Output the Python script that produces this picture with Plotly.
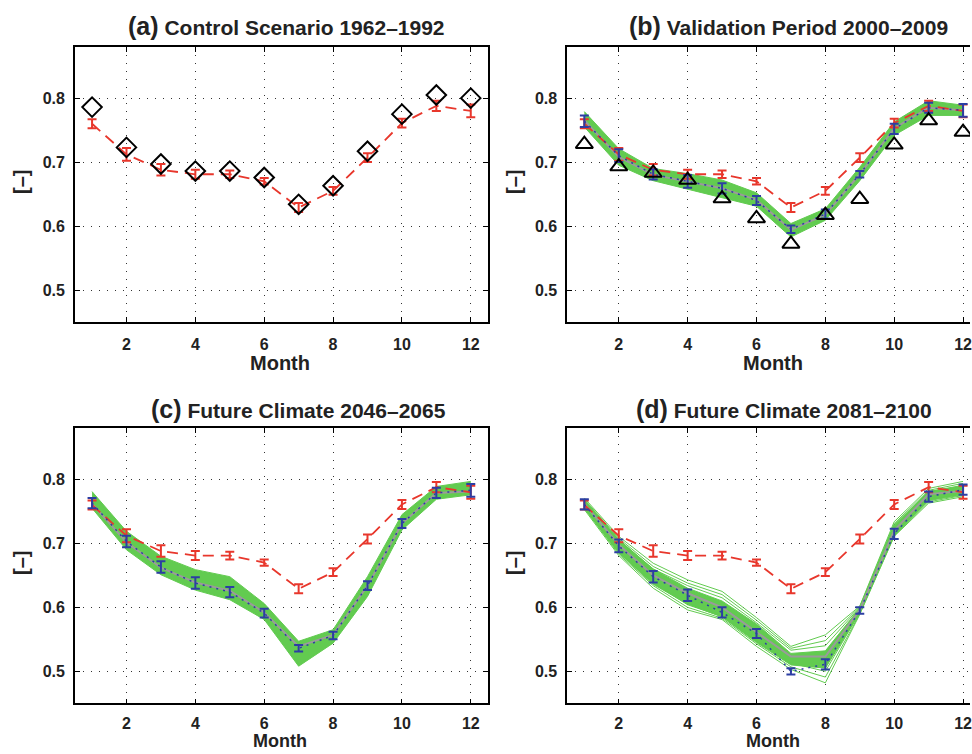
import plotly.graph_objects as go

W, H = 972, 754

months = list(range(1, 13))
xtick_vals = [2, 4, 6, 8, 10, 12]
ytick_vals = [0.5, 0.6, 0.7, 0.8]
ytick_text = ["0.5", "0.6", "0.7", "0.8"]

# Control scenario (red dashed with error bars), same in all panels
ctrl_mean = [0.760, 0.712, 0.688, 0.681, 0.681, 0.670, 0.629, 0.655, 0.707, 0.761, 0.788, 0.780]
ctrl_err = [0.007, 0.010, 0.009, 0.007, 0.006, 0.005, 0.007, 0.006, 0.007, 0.007, 0.008, 0.010]

# Observations
obs_ctrl = [0.786, 0.723, 0.697, 0.686, 0.686, 0.676, 0.634, 0.663, 0.717, 0.775, 0.805, 0.800]
obs_valid = [0.728, 0.693, 0.683, 0.672, 0.643, 0.612, 0.572, 0.617, 0.642, 0.727, 0.765, 0.747]

# (b) Validation period
valid_mean = [0.764, 0.710, 0.681, 0.670, 0.659, 0.640, 0.595, 0.619, 0.681, 0.752, 0.785, 0.781]
valid_err = [0.009, 0.010, 0.008, 0.010, 0.008, 0.007, 0.006, 0.007, 0.005, 0.008, 0.008, 0.010]
valid_median = [0.765, 0.708, 0.680, 0.670, 0.659, 0.641, 0.594, 0.618, 0.681, 0.753, 0.785, 0.781]
valid_lo = [0.755, 0.695, 0.671, 0.658, 0.645, 0.631, 0.583, 0.609, 0.671, 0.742, 0.773, 0.773]
valid_hi = [0.779, 0.721, 0.690, 0.682, 0.672, 0.652, 0.604, 0.627, 0.692, 0.763, 0.796, 0.789]

# (c) Future 2046-2065
fut1_mean = [0.763, 0.703, 0.663, 0.638, 0.624, 0.591, 0.536, 0.556, 0.634, 0.731, 0.779, 0.783]
fut1_err = [0.008, 0.009, 0.009, 0.009, 0.008, 0.007, 0.005, 0.006, 0.007, 0.007, 0.008, 0.010]
fut1_median = [0.762, 0.702, 0.662, 0.639, 0.626, 0.592, 0.539, 0.557, 0.634, 0.731, 0.779, 0.781]
fut1_lo = [0.755, 0.690, 0.651, 0.627, 0.612, 0.581, 0.508, 0.544, 0.617, 0.721, 0.769, 0.776]
fut1_hi = [0.781, 0.719, 0.680, 0.659, 0.648, 0.606, 0.547, 0.565, 0.648, 0.745, 0.789, 0.797]

# (d) Future 2081-2100
fut2_mean = [0.761, 0.696, 0.648, 0.619, 0.592, 0.559, 0.500, 0.511, 0.595, 0.715, 0.773, 0.784]
fut2_err = [0.008, 0.010, 0.009, 0.009, 0.008, 0.007, 0.005, 0.008, 0.005, 0.008, 0.008, 0.008]
fut2_median = [0.762, 0.698, 0.650, 0.622, 0.600, 0.562, 0.523, 0.523, 0.596, 0.720, 0.777, 0.782]
fut2_lo = [0.755, 0.685, 0.636, 0.605, 0.585, 0.545, 0.510, 0.505, 0.591, 0.713, 0.767, 0.776]
fut2_hi = [0.768, 0.706, 0.660, 0.630, 0.610, 0.574, 0.528, 0.532, 0.599, 0.728, 0.781, 0.790]
fut2_members = [
    [0.771, 0.711, 0.669, 0.643, 0.625, 0.584, 0.539, 0.557, 0.602, 0.734, 0.786, 0.797],
    [0.769, 0.708, 0.664, 0.638, 0.620, 0.580, 0.536, 0.548, 0.601, 0.731, 0.783, 0.794],
    [0.767, 0.705, 0.660, 0.634, 0.615, 0.576, 0.533, 0.540, 0.600, 0.729, 0.781, 0.791],
    [0.757, 0.686, 0.638, 0.604, 0.586, 0.548, 0.513, 0.500, 0.592, 0.714, 0.768, 0.778],
    [0.755, 0.683, 0.634, 0.600, 0.583, 0.543, 0.507, 0.491, 0.590, 0.712, 0.765, 0.775],
    [0.753, 0.681, 0.630, 0.596, 0.581, 0.539, 0.503, 0.482, 0.589, 0.711, 0.763, 0.773],
]

titles = ["(a)", "(b)", "(c)", "(d)"]
subtitles = ["Control Scenario 1962–1992", "Validation Period 2000–2009",
             "Future Climate 2046–2065", "Future Climate 2081–2100"]

RED = "#e8372c"
BLUE = "#2c3ea3"
GREEN = "#62cb50"
GRAY = "#9a9a9a"
FONT = "Liberation Sans, Arial, Helvetica, sans-serif"

fig = go.Figure()

# axis ids: 1=(a) 2=(b) 3=(c) 4=(d)
def ax(i):
    return ("x" if i == 1 else f"x{i}"), ("y" if i == 1 else f"y{i}")


def add_red(i):
    xa, ya = ax(i)
    fig.add_trace(go.Scatter(x=months, y=ctrl_mean, mode="lines", xaxis=xa, yaxis=ya,
                             line=dict(color=RED, width=1.8, dash="11px,7px"),
                             error_y=dict(type="data", array=ctrl_err, color=RED, thickness=2, width=4.5),
                             showlegend=False, hoverinfo="skip"))


def add_ensemble(i, lo, hi, median, members=None):
    xa, ya = ax(i)
    fig.add_trace(go.Scatter(x=months, y=lo, mode="lines", xaxis=xa, yaxis=ya,
                             line=dict(color=GREEN, width=1), showlegend=False, hoverinfo="skip"))
    fig.add_trace(go.Scatter(x=months, y=hi, mode="lines", xaxis=xa, yaxis=ya, fill="tonexty",
                             fillcolor=GREEN, line=dict(color=GREEN, width=1),
                             showlegend=False, hoverinfo="skip"))
    if members:
        for m in members:
            fig.add_trace(go.Scatter(x=months, y=m, mode="lines", xaxis=xa, yaxis=ya,
                                     line=dict(color=GREEN, width=1), showlegend=False, hoverinfo="skip"))
    fig.add_trace(go.Scatter(x=months, y=median, mode="lines", xaxis=xa, yaxis=ya,
                             line=dict(color=GRAY, width=2), showlegend=False, hoverinfo="skip"))


def add_blue(i, mean, err):
    xa, ya = ax(i)
    fig.add_trace(go.Scatter(x=months, y=mean, mode="lines", xaxis=xa, yaxis=ya,
                             line=dict(color=BLUE, width=1.5, dash="2px,5px"),
                             error_y=dict(type="data", array=err, color=BLUE, thickness=2, width=4.5),
                             showlegend=False, hoverinfo="skip"))


# (a)
add_red(1)
fig.add_trace(go.Scatter(x=months, y=obs_ctrl, mode="markers", xaxis="x", yaxis="y",
                         marker=dict(symbol="diamond-open", size=15, color="black", line=dict(width=2)),
                         showlegend=False, hoverinfo="skip"))
# (b)
add_ensemble(2, valid_lo, valid_hi, valid_median)
add_red(2)
add_blue(2, valid_mean, valid_err)
fig.add_trace(go.Scatter(x=months, y=obs_valid, mode="markers", xaxis="x2", yaxis="y2",
                         marker=dict(symbol="triangle-up-open", size=15, color="black", line=dict(width=2)),
                         showlegend=False, hoverinfo="skip"))
# (c)
add_ensemble(3, fut1_lo, fut1_hi, fut1_median)
add_red(3)
add_blue(3, fut1_mean, fut1_err)
# (d)
add_ensemble(4, fut2_lo, fut2_hi, fut2_median, fut2_members)
add_red(4)
add_blue(4, fut2_mean, fut2_err)

# layout (pixel geometry -> paper fractions)
left_px = (75, 489)
right_px = (568.3, 972)
top_px = (47, 322)
bot_px = (428.3, 703.3)
px_per_month = (left_px[1] - left_px[0]) / 12.0
right_xmax = 0.5 + (right_px[1] - right_px[0]) / px_per_month

def xd(p):
    return [p[0] / W, p[1] / W]

def yd(p):
    return [1 - p[1] / H, 1 - p[0] / H]

axis_common = dict(showline=True, linecolor="black", linewidth=1.5, ticks="inside", ticklen=5,
                   tickwidth=1, tickcolor="black", showgrid=True, gridcolor="#333333",
                   griddash="1px,7px", gridwidth=1, zeroline=False, ticklabeloverflow="allow",
                   tickfont=dict(family=FONT, size=16, color="#222222", weight="bold"))

geom = {1: (left_px, top_px), 2: (right_px, top_px), 3: (left_px, bot_px), 4: (right_px, bot_px)}
layout_axes = {}
for i, (xp, yp) in geom.items():
    xname = "xaxis" if i == 1 else f"xaxis{i}"
    yname = "yaxis" if i == 1 else f"yaxis{i}"
    right = i in (2, 4)
    bottom = i in (3, 4)
    layout_axes[xname] = dict(axis_common, domain=xd(xp), anchor=("y" if i == 1 else f"y{i}"),
                              range=[0.5, right_xmax if right else 12.5], tickvals=xtick_vals,
                              mirror="ticks", ticklabelstandoff=(5 if bottom else 7))
    layout_axes[yname] = dict(axis_common, domain=yd(yp), anchor=("x" if i == 1 else f"x{i}"),
                              range=[0.45, 0.88], tickvals=ytick_vals, ticktext=ytick_text,
                              mirror=(False if right else "ticks"), ticklabelstandoff=5)

fig.update_layout(width=W, height=H, margin=dict(l=0, r=0, t=0, b=0),
                  paper_bgcolor="white", plot_bgcolor="white", showlegend=False,
                  font=dict(family=FONT, color="#222222"), **layout_axes)

annots = []
title_pos = [(287, 26), (790, 26), (299, 409), (786, 409)]
ylab_pos = [(21, 182), (515, 182), (21, 563), (515, 563)]
month_x = [281, 775, 281, 775]
for k in range(4):
    tx, ty = title_pos[k]
    annots.append(dict(x=tx / W, y=1 - ty / H, xref="paper", yref="paper", showarrow=False,
                       xanchor="center", yanchor="middle",
                       text=f"<b><span style='font-size:25px'>{titles[k]}</span> {subtitles[k]}</b>",
                       font=dict(family=FONT, size=21, color="#222222")))
    if k < 2:
        annots.append(dict(x=month_x[k] / W, y=1 - 363 / H, xref="paper", yref="paper", showarrow=False,
                           xanchor="center", yanchor="middle", text="<b>Month</b>",
                           font=dict(family=FONT, size=20, color="#222222")))
    else:
        annots.append(dict(x=month_x[k] / W, y=0.001, xref="paper", yref="paper", showarrow=False,
                           xanchor="center", yanchor="bottom", text="<b>Month</b>",
                           font=dict(family=FONT, size=18, color="#222222")))
    lx, ly = ylab_pos[k]
    annots.append(dict(x=lx / W, y=1 - ly / H, xref="paper", yref="paper", showarrow=False,
                       xanchor="center", yanchor="middle", text="<b>[–]</b>", textangle=-90,
                       font=dict(family=FONT, size=20, color="#222222")))
fig.update_layout(annotations=annots)

fig.write_html("out.html")
